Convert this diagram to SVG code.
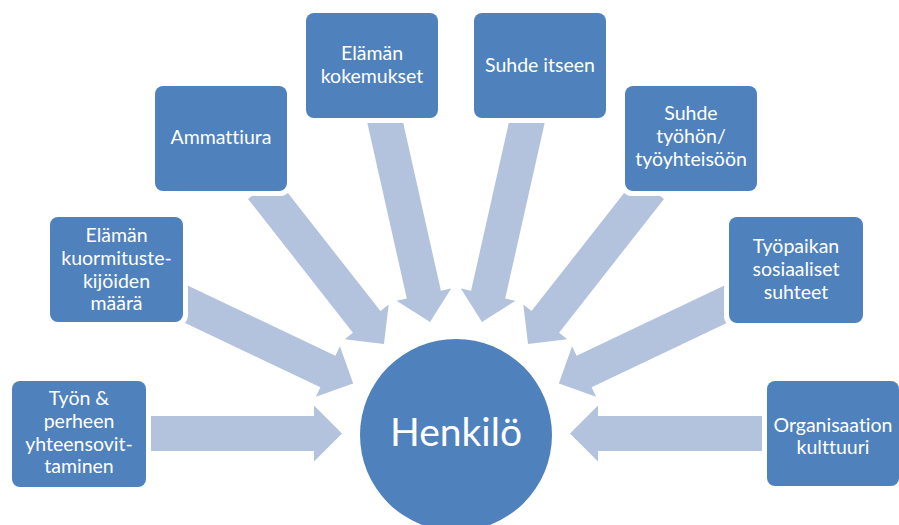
<svg xmlns="http://www.w3.org/2000/svg" width="899" height="525" viewBox="0 0 899 525">
<style>
.arrow{fill:#B3C3DE;}
.halo{fill:#FFFFFF;}
.box{fill:#4F81BD;}
.lbl{fill:#FFFFFF;font-family:Lato,"Liberation Sans",sans-serif;font-size:19.5px;text-anchor:middle;font-variant-ligatures:none;font-feature-settings:"liga" 0,"dlig" 0;}
.big{font-size:39px;}
</style>
<rect width="899" height="525" fill="#FFFFFF"/>
<g id="connectors">
<path class="arrow" transform="translate(141,433.5) rotate(0)" d="M0,-17.5 H173 V-28 L201,0 L173,28 V17.5 H0 Z"/>
<path class="arrow" transform="translate(178,300.2) rotate(25.45)" d="M0,-17.5 H166 V-28 L194,0 L166,28 V17.5 H0 Z"/>
<path class="arrow" transform="translate(261.8,188.1) rotate(51.9)" d="M0,-17.5 H170 V-28 L198,0 L170,28 V17.5 H0 Z"/>
<path class="arrow" transform="translate(383.3,114.2) rotate(77.33)" d="M0,-17.5 H185 V-28 L213,0 L185,28 V17.5 H0 Z"/>
<path class="arrow" transform="translate(528.7,114.2) rotate(102.67)" d="M0,-17.5 H185 V-28 L213,0 L185,28 V17.5 H0 Z"/>
<path class="arrow" transform="translate(650.2,188.1) rotate(128.1)" d="M0,-17.5 H170 V-28 L198,0 L170,28 V17.5 H0 Z"/>
<path class="arrow" transform="translate(734,300.2) rotate(154.55)" d="M0,-17.5 H166 V-28 L194,0 L166,28 V17.5 H0 Z"/>
<path class="arrow" transform="translate(771,433.5) rotate(180)" d="M0,-17.5 H173 V-28 L201,0 L173,28 V17.5 H0 Z"/>
</g>
<g id="henkilo">
<circle cx="456" cy="435" r="98" fill="#FFFFFF"/>
<circle class="box" cx="456" cy="435" r="96"/>
<text class="lbl big" x="456" y="446">Henkilö</text>
</g>
<g id="tyon-perheen">
<rect class="halo" x="7" y="376" width="144" height="116" rx="12"/>
<rect class="box" x="12" y="381" width="134" height="106" rx="8"/>
<text class="lbl" x="79" y="405">Työn &amp;</text>
<text class="lbl" x="79" y="428">perheen</text>
<text class="lbl" x="79" y="451">yhteensovit-</text>
<text class="lbl" x="79" y="473">taminen</text>
</g>
<g id="kuormitustekijat">
<rect class="halo" x="45" y="212" width="143" height="115" rx="12"/>
<rect class="box" x="50" y="217" width="133" height="105" rx="8"/>
<text class="lbl" x="116.5" y="242">Elämän</text>
<text class="lbl" x="116.5" y="265">kuormituste-</text>
<text class="lbl" x="116.5" y="288">kijöiden</text>
<text class="lbl" x="116.5" y="310">määrä</text>
</g>
<g id="ammattiura">
<rect class="halo" x="150" y="81" width="142" height="115" rx="12"/>
<rect class="box" x="155" y="86" width="132" height="105" rx="8"/>
<text class="lbl" x="221" y="144">Ammattiura</text>
</g>
<g id="elaman-kokemukset">
<rect class="halo" x="301" y="8" width="142" height="115" rx="12"/>
<rect class="box" x="306" y="13" width="132" height="105" rx="8"/>
<text class="lbl" x="372" y="60">Elämän</text>
<text class="lbl" x="372" y="83">kokemukset</text>
</g>
<g id="suhde-itseen">
<rect class="halo" x="469" y="8" width="142" height="115" rx="12"/>
<rect class="box" x="474" y="13" width="132" height="105" rx="8"/>
<text class="lbl" x="540" y="72">Suhde itseen</text>
</g>
<g id="suhde-tyohon">
<rect class="halo" x="620" y="81" width="142" height="115" rx="12"/>
<rect class="box" x="625" y="86" width="132" height="105" rx="8"/>
<text class="lbl" x="691" y="120">Suhde</text>
<text class="lbl" x="691" y="143">työhön/</text>
<text class="lbl" x="691" y="166">työyhteisöön</text>
</g>
<g id="tyopaikan-suhteet">
<rect class="halo" x="724" y="212" width="144" height="116" rx="12"/>
<rect class="box" x="729" y="217" width="134" height="106" rx="8"/>
<text class="lbl" x="796" y="253">Työpaikan</text>
<text class="lbl" x="796" y="276">sosiaaliset</text>
<text class="lbl" x="796" y="299">suhteet</text>
</g>
<g id="organisaation-kulttuuri">
<rect class="halo" x="762" y="376" width="142" height="115" rx="12"/>
<rect class="box" x="767" y="381" width="132" height="105" rx="8"/>
<text class="lbl" x="833" y="432">Organisaation</text>
<text class="lbl" x="833" y="454">kulttuuri</text>
</g>
</svg>
